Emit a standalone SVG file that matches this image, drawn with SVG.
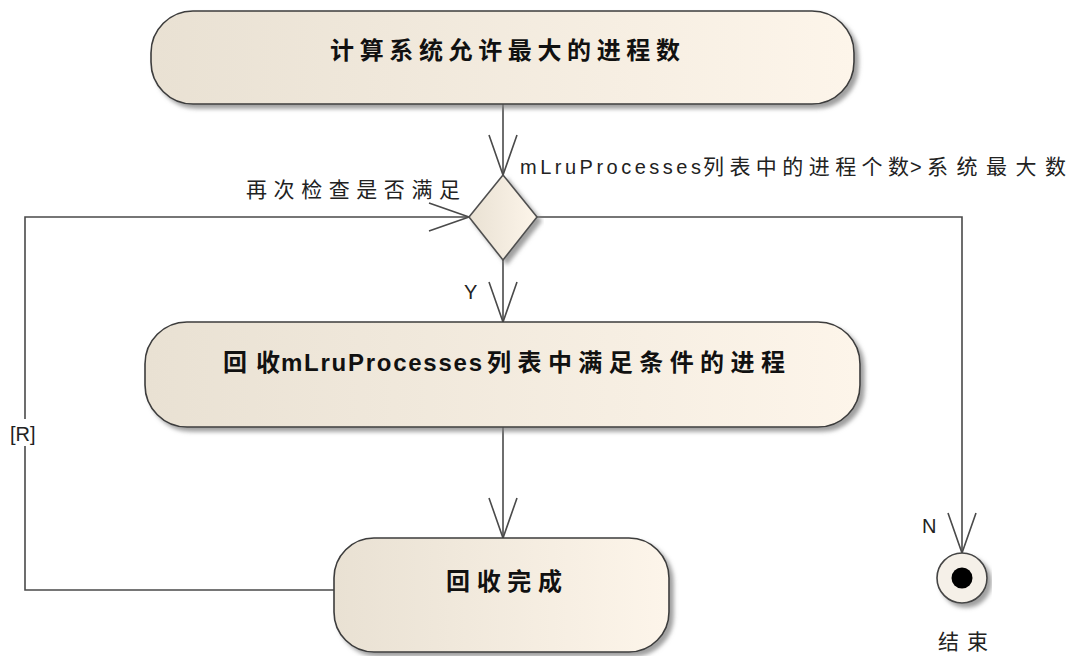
<svg xmlns="http://www.w3.org/2000/svg" width="1069" height="656" viewBox="0 0 1069 656">
  <style>
    .box { stroke: #3c3c3c; stroke-width: 1.6; fill: url(#fill); filter: url(#shadow); }
    .conn { fill: none; stroke: #4a4a4a; stroke-width: 1.6; }
    .title { font-family: "Noto Sans CJK SC", "Liberation Sans", sans-serif; font-weight: bold; font-size: 24px; fill: #111; }
    .latinb { font-family: "Liberation Sans", "Noto Sans CJK SC", sans-serif; font-weight: bold; font-size: 24px; fill: #111; }
    .lbl { font-family: "Noto Sans CJK SC", sans-serif; font-size: 21px; fill: #222; }
    .lbll { font-family: "Liberation Sans", "Noto Sans CJK SC", sans-serif; font-size: 20px; fill: #222; }
    .ltr { font-family: "Liberation Sans", sans-serif; font-size: 20px; fill: #222; }
  </style>
  <defs>
    <linearGradient id="fill" x1="0" y1="0" x2="1" y2="0">
      <stop offset="0" stop-color="#e9e1d3"/>
      <stop offset="1" stop-color="#fdf5ea"/>
    </linearGradient>
    <filter id="shadow" x="-5%" y="-10%" width="115%" height="130%">
      <feDropShadow dx="4" dy="4" stdDeviation="2" flood-color="#808080" flood-opacity="0.75"/>
    </filter>
    <marker id="arrow" markerUnits="userSpaceOnUse" markerWidth="50" markerHeight="40" viewBox="-45 -20 50 40" refX="0" refY="0" orient="auto" overflow="visible">
      <path d="M-40,-14 L0,0 L-40,14" fill="none" stroke="#4a4a4a" stroke-width="1.6"/>
    </marker>
  </defs>
  <rect width="1069" height="656" fill="#ffffff"/>

  <g id="connectors">
    <path class="conn" d="M503,104 L503,175" marker-end="url(#arrow)"/>
    <path class="conn" d="M503,260 L503,322" marker-end="url(#arrow)"/>
    <path class="conn" d="M503,427 L503,538" marker-end="url(#arrow)"/>
    <path class="conn" d="M537,217 L962,217 L962,553" marker-end="url(#arrow)"/>
    <path class="conn" d="M25,419 L25,217 L469,217" marker-end="url(#arrow)"/>
    <path class="conn" d="M334,590 L25,590 L25,446"/>
    <text class="lbll" x="520" y="174" textLength="181" lengthAdjust="spacing">mLruProcesses</text>
    <text class="lbl" x="703" y="174" textLength="206" lengthAdjust="spacing">列表中的进程个数</text>
    <text class="lbll" x="910" y="174">&gt;</text>
    <text class="lbl" x="927" y="174" textLength="139" lengthAdjust="spacing">系统最大数</text>
    <text class="lbl" x="246" y="197" textLength="214" lengthAdjust="spacing">再次检查是否满足</text>
    <text class="ltr" x="464" y="299">Y</text>
    <text class="ltr" x="922" y="533">N</text>
    <text class="ltr" x="10" y="441">[R]</text>
  </g>

  <g id="node-compute">
    <rect class="box" x="151" y="11" width="703" height="93" rx="42" ry="42"/>
    <text class="title" x="330" y="59" textLength="350" lengthAdjust="spacing">计算系统允许最大的进程数</text>
  </g>

  <g id="node-decision">
    <polygon class="box" points="503,175 537,217 503,260 469,217" style="stroke:#505050"/>
  </g>

  <g id="node-reclaim">
    <rect class="box" x="145" y="322" width="715" height="105" rx="42" ry="42"/>
    <text class="title" x="223" y="371" textLength="57" lengthAdjust="spacing">回收</text>
    <text class="latinb" x="281" y="371" textLength="201" lengthAdjust="spacing">mLruProcesses</text>
    <text class="title" x="487" y="371" textLength="298" lengthAdjust="spacing">列表中满足条件的进程</text>
  </g>

  <g id="node-done">
    <rect class="box" x="334" y="538" width="335" height="114" rx="40" ry="40"/>
    <text class="title" x="446" y="590" textLength="116" lengthAdjust="spacing">回收完成</text>
  </g>

  <g id="node-end">
    <circle cx="962" cy="578" r="25" fill="#f5f0e8" stroke="#444" stroke-width="1.6" filter="url(#shadow)"/>
    <circle cx="962" cy="578" r="10.5" fill="#000"/>
    <text class="lbl" x="938" y="649" textLength="50" lengthAdjust="spacing">结束</text>
  </g>
</svg>
